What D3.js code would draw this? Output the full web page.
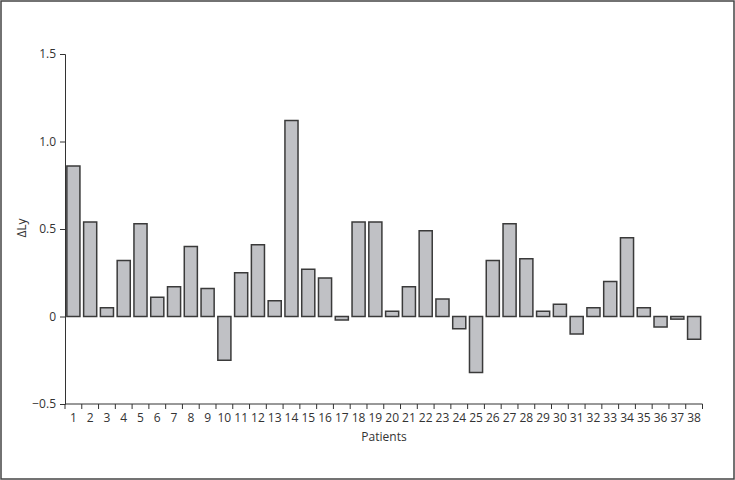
<!DOCTYPE html>
<html>
<head>
<meta charset="utf-8">
<script src="https://cdn.jsdelivr.net/npm/d3@7"></script>
<style>
  body { margin: 0; background: #fff; }
  text { font-family: "Open Sans", sans-serif; fill: #333; }
</style>
</head>
<body>
<div id="chart"></div>
<script>
var patients = d3.range(1, 39).map(String);
var deltaLy = [0.86, 0.54, 0.05, 0.32, 0.53, 0.11, 0.17, 0.40, 0.16, -0.25,
               0.25, 0.41, 0.09, 1.12, 0.27, 0.22, -0.02, 0.54, 0.54, 0.03,
               0.17, 0.49, 0.10, -0.07, -0.32, 0.32, 0.53, 0.33, 0.03, 0.07,
               -0.10, 0.05, 0.20, 0.45, 0.05, -0.06, -0.015, -0.13];
var yTicks = [-0.5, 0, 0.5, 1.0, 1.5];

var width = 735, height = 480;
var svg = d3.select("#chart").append("svg")
    .attr("width", width)
    .attr("height", height);

// frame
svg.append("rect")
    .attr("x", 1).attr("y", 1)
    .attr("width", width - 2).attr("height", height - 2)
    .attr("fill", "none")
    .attr("stroke", "#444")
    .attr("stroke-width", 1.5);

var x = d3.scaleBand().domain(patients).range([65, 702.5]).paddingInner(0.22).paddingOuter(0.11);
var y = d3.scaleLinear().domain([-0.5, 1.5]).range([404, 54]);

var data = patients.map(function(p, i){ return {p: p, v: deltaLy[i]}; });

svg.append("g")
    .selectAll("rect")
    .data(data)
    .enter().append("rect")
    .attr("x", function(d){ return x(d.p); })
    .attr("width", x.bandwidth())
    .attr("y", function(d){ return y(Math.max(0, d.v)); })
    .attr("height", function(d){ return Math.abs(y(d.v) - y(0)); })
    .attr("fill", "#c0c1c5")
    .attr("stroke", "#3a3a3a")
    .attr("stroke-width", 1.5);

// y axis
var yAxis = svg.append("g")
    .attr("transform", "translate(65,0)")
    .call(d3.axisLeft(y).tickValues(yTicks).tickSize(5).tickPadding(4)
      .tickFormat(function(d){ return d === 0 ? "0" : d3.format(".1f")(d).replace("-", "\u2212"); }));
yAxis.selectAll("text").style("font-size", "12px");

// x axis: ticks at band boundaries, labels centred
var xg = svg.append("g").attr("transform", "translate(0,404)");
xg.append("line")
    .attr("x1", 65).attr("x2", 702.5)
    .attr("stroke", "#333");
var step = x.step();
var bounds = d3.range(patients.length + 1).map(function(i){ return 65 + i * step; });
xg.selectAll("line.tick")
    .data(bounds)
    .enter().append("line")
    .attr("class", "tick")
    .attr("x1", function(d){ return d; }).attr("x2", function(d){ return d; })
    .attr("y1", 0).attr("y2", 5)
    .attr("stroke", "#333");
xg.selectAll("text")
    .data(patients)
    .enter().append("text")
    .attr("x", function(d){ return x(d) + x.bandwidth() / 2; })
    .attr("y", 18)
    .attr("text-anchor", "middle")
    .style("font-size", "12px")
    .text(function(d){ return d; });

yAxis.select(".domain").attr("stroke", "#333");
yAxis.selectAll(".tick line").attr("stroke", "#333");

svg.append("text")
    .attr("transform", "translate(26,228) rotate(-90)")
    .attr("text-anchor", "middle")
    .style("font-size", "12px")
    .text("\u0394Ly");

svg.append("text")
    .attr("x", 384).attr("y", 441)
    .attr("text-anchor", "middle")
    .style("font-size", "12px")
    .text("Patients");
</script>
</body>
</html>
